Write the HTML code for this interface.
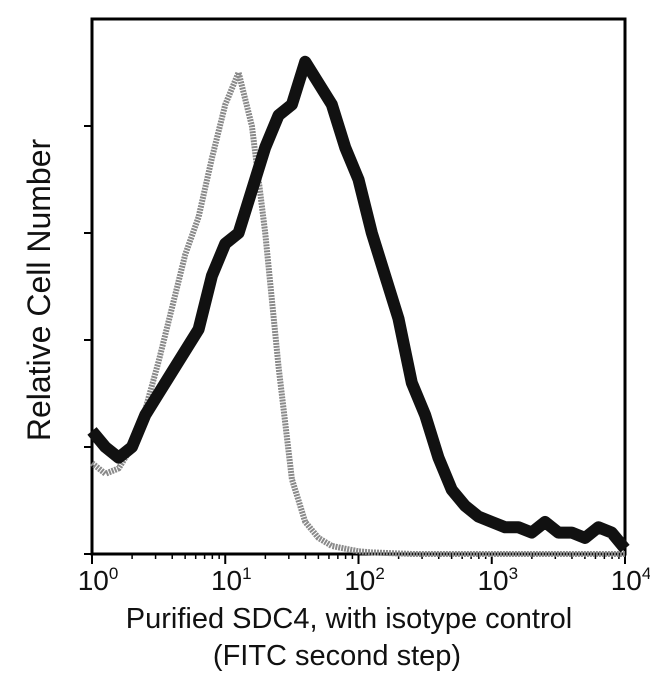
<!DOCTYPE html>
<html><head><meta charset="utf-8"><style>
body{margin:0;background:#fff;width:650px;height:676px;overflow:hidden;font-family:"Liberation Sans",sans-serif}
</style></head><body>
<svg width="650" height="676" xmlns="http://www.w3.org/2000/svg">
<g id="plot"></g>
<text x="0" y="0" transform="translate(50,290) rotate(-90)" text-anchor="middle" font-size="32" fill="#111">Relative Cell Number</text>
<text x="349" y="628" text-anchor="middle" font-size="29" fill="#111">Purified SDC4, with isotype control</text>
<text x="337" y="665" text-anchor="middle" font-size="29" fill="#111">(FITC second step)</text>
</svg>
<script>
const logX=[0,0.1,0.2,0.3,0.4,0.5,0.6,0.7,0.8,0.9,1.0,1.1,1.2,1.3,1.4,1.5,1.6,1.7,1.8,1.9,2.0,2.1,2.2,2.3,2.4,2.5,2.6,2.7,2.8,2.9,3.0,3.1,3.2,3.3,3.4,3.5,3.6,3.7,3.8,3.9,4.0];
const sdc4=[23,20,18,20,26,30,34,38,42,52,58,60,68,76,82,84,92,88,84,76,70,60,52,44,32,26,18,12,9,7,6,5,5,4,6,4,4,3,5,4,1];
const isotype=[17,15,16,20,27,36,46,56,63,74,84,90,80,60,35,14,6,3,1.5,1,0.5,0.3,0.2,0.1,0,0,0,0,0,0,0,0,0,0,0,0,0,0,0,0,0];
const xTicks=["0","1","2","3","4"];
const yTicks=[0,20,40,60,80];
const L=92,R=625,T=19,B=554;
const sx=v=>L+(v/4)*(R-L);
const sy=v=>B-(v/100)*(B-T);
const NS="http://www.w3.org/2000/svg";
const g=document.getElementById('plot');
function mk(t,a){const e=document.createElementNS(NS,t);for(const k in a)e.setAttribute(k,a[k]);g.appendChild(e);return e;}
const frame=mk('rect',{x:L,y:T,width:R-L,height:B-T,fill:'none',stroke:'#000','stroke-width':3});


yTicks.forEach(v=>{const t=mk('line',{x1:L-8,x2:L,y1:sy(v),y2:sy(v),stroke:'#000','stroke-width':2});

});
for(let d=0;d<4;d++){for(let m=2;m<=9;m++){const x=sx(d+Math.log10(m));const t=mk('line',{x1:x,x2:x,y1:B,y2:B+5,stroke:'#000','stroke-width':1.5});

}}
xTicks.forEach((e,i)=>{const x=sx(i);const t=mk('line',{x1:x,x2:x,y1:B,y2:B+10,stroke:'#000','stroke-width':2});


const tx=mk('text',{x:x+6,y:590,'text-anchor':'middle','font-size':28,fill:'#111'});


tx.innerHTML='10<tspan dy="-11" font-size="17">'+e+'</tspan>';});
const ptsI=logX.map((v,i)=>sx(v)+','+sy(isotype[i])).join(' ');
const pI=mk('polyline',{points:ptsI,fill:'none',stroke:'#8a8a8a','stroke-width':6,'stroke-dasharray':'2 1','stroke-linejoin':'round'});


const ptsS=logX.map((v,i)=>sx(v)+','+sy(sdc4[i])).join(' ');
const pS=mk('polyline',{points:ptsS,fill:'none',stroke:'#111','stroke-width':12,'stroke-linejoin':'round'});


</script>
</body></html>
